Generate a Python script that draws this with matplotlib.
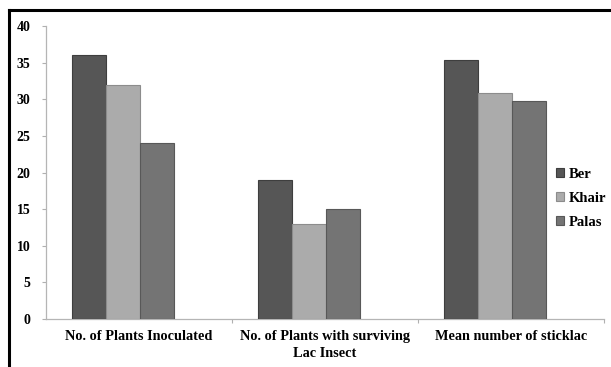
import matplotlib
matplotlib.use("Agg")
import matplotlib.pyplot as plt
from matplotlib.lines import Line2D
import numpy as np

categories = ["No. of Plants Inoculated", "No. of Plants with surviving\nLac Insect", "Mean number of sticklac"]
series_names = ["Ber", "Khair", "Palas"]
ber = [36, 19, 35.4]
khair = [32, 13, 30.8]
palas = [24, 15, 29.7]
yticks = [0, 5, 10, 15, 20, 25, 30, 35, 40]

colors = ["#565656", "#ababab", "#747474"]
edges = ["#3e3e3e", "#8c8c8c", "#585858"]

plt.rcParams['font.family'] = ['Liberation Serif', 'DejaVu Serif']
plt.rcParams['font.weight'] = 'bold'

W, H = 611, 367
fig = plt.figure(figsize=(W / 100, H / 100), dpi=100)
x0, x1 = 46, 604
y0, y1 = 319, 26
ax = fig.add_axes([x0 / W, 1 - y0 / H, (x1 - x0) / W, (y0 - y1) / H])

x = np.arange(len(categories))
bw = 0.183
shift = -0.086
for k, (name, vals) in enumerate(zip(series_names, [ber, khair, palas])):
    ax.bar(x + shift + (k - 1) * bw, vals, width=bw, color=colors[k],
           edgecolor=edges[k], linewidth=0.8, label=name, zorder=3)

ax.set_xlim(-0.5, 2.5)
ax.set_ylim(0, 40)
ax.set_yticks(yticks)
ax.set_yticklabels([str(v) for v in yticks], fontsize=10, fontweight='bold')
ax.set_xticks(x)
ax.set_xticklabels(categories, fontsize=10.3, fontweight='bold', linespacing=1.4)
ax.tick_params(axis='x', length=0, pad=8)
ax.set_xticks([0.5, 1.5, 2.5], minor=True)
ax.tick_params(axis='x', which='minor', length=3, color='#b0b0b0', width=0.8, direction='out')
ax.tick_params(axis='y', length=3, color='#b0b0b0', width=0.8, pad=8)

for s in ['top', 'right']:
    ax.spines[s].set_visible(False)
for s in ['left', 'bottom']:
    ax.spines[s].set_color('#b5b5b5')
    ax.spines[s].set_linewidth(0.9)

leg = fig.legend(loc='upper left', bbox_to_anchor=(556 / W, 1 - 168 / H), frameon=False,
                 fontsize=10.5, handlelength=0.55, handleheight=0.55, handletextpad=0.3,
                 labelspacing=0.75, borderaxespad=0, borderpad=0)
for t in leg.get_texts():
    t.set_fontweight('bold')

# figure border (top and left)
fig.add_artist(Line2D([9 / W, 1.0], [1 - 10 / H, 1 - 10 / H], color='black', linewidth=2.2,
                      transform=fig.transFigure))
fig.add_artist(Line2D([9 / W, 9 / W], [0, 1 - 10 / H], color='black', linewidth=2.2,
                      transform=fig.transFigure))

fig.savefig("out.png", dpi=100)
